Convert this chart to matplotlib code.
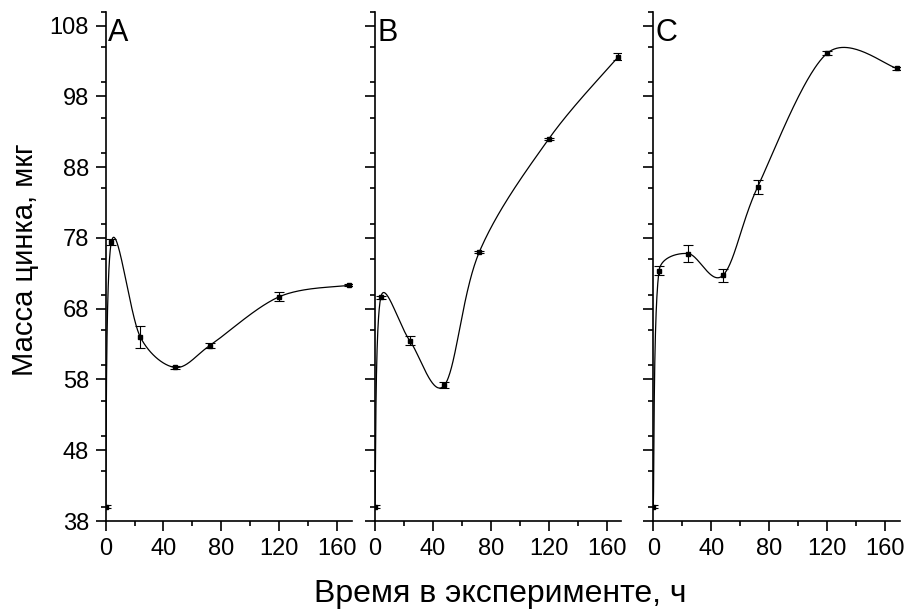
import numpy as np
import matplotlib
matplotlib.use("Agg")
import matplotlib.pyplot as plt
from matplotlib.ticker import MultipleLocator

plt.rcParams["font.family"] = ["Liberation Sans", "DejaVu Sans"]

# время отбора проб, ч
hours = [0, 4, 24, 48, 72, 120, 168]

# масса цинка, мкг, и погрешности для трёх серий
zn_a = [40.0, 77.4, 64.0, 59.7, 62.8, 69.7, 71.3]
err_a = [0.2, 0.4, 1.5, 0.2, 0.3, 0.6, 0.15]

zn_b = [40.0, 69.6, 63.5, 57.2, 76.0, 92.0, 103.6]
err_b = [0.2, 0.2, 0.6, 0.4, 0.1, 0.15, 0.5]

zn_c = [40.0, 73.4, 75.8, 72.7, 85.2, 104.1, 102.0]
err_c = [0.2, 0.6, 1.25, 0.9, 1.05, 0.3, 0.2]

panel_names = ["A", "B", "C"]


def bezier_curve(ax, x, y, n=60, limit=0.4):
    # гладкая линия через точки: кубические Безье в экранных координатах,
    # ручки по соседним точкам (Catmull-Rom), ограниченные длиной сегмента
    p = ax.transData.transform(np.column_stack([x, y]))
    k = len(p)
    tang = []
    for i in range(k):
        a = p[i - 1] if i > 0 else p[i]
        b = p[i + 1] if i + 1 < k else p[i]
        tang.append((b - a) / 6)

    def handle(v, seg_len):
        size = np.hypot(*v)
        cap = seg_len * limit
        return v if size <= cap else v * cap / size

    t = np.linspace(0, 1, n)[:, None]
    parts = []
    for i in range(k - 1):
        seg_len = np.hypot(*(p[i + 1] - p[i]))
        c1 = p[i] + handle(tang[i], seg_len)
        c2 = p[i + 1] - handle(tang[i + 1], seg_len)
        seg = ((1 - t) ** 3 * p[i] + 3 * (1 - t) ** 2 * t * c1
               + 3 * (1 - t) * t ** 2 * c2 + t ** 3 * p[i + 1])
        parts.append(seg if i == 0 else seg[1:])
    curve = ax.transData.inverted().transform(np.vstack(parts))
    return curve[:, 0], curve[:, 1]


fig = plt.figure(figsize=(9.09, 6.10), dpi=100)
left_pos = [0.1161, 0.4125, 0.7187]
series = [(zn_a, err_a), (zn_b, err_b), (zn_c, err_c)]

for i, (vals, errs) in enumerate(series):
    ax = fig.add_axes([left_pos[i], 0.1459, 0.2709, 0.8352])
    ax.set_xlim(0, 170)
    ax.set_ylim(38, 110)
    xs, ys = bezier_curve(ax, hours, vals)
    ax.plot(xs, ys, color="black", lw=0.9)
    ax.errorbar(hours, vals, yerr=errs, fmt="s", color="black", ms=3,
                ecolor="black", elinewidth=0.8, capsize=3.8, capthick=0.8)
    ax.xaxis.set_major_locator(MultipleLocator(40))
    ax.xaxis.set_minor_locator(MultipleLocator(20))
    ax.set_yticks(np.arange(38, 109, 10))
    ax.yaxis.set_minor_locator(MultipleLocator(5))
    ax.spines["top"].set_visible(False)
    ax.spines["right"].set_visible(False)
    for s in ("left", "bottom"):
        ax.spines[s].set_linewidth(1.2)
    ax.tick_params(which="major", direction="out", length=7, width=1.2,
                   labelsize=17, pad=5)
    ax.tick_params(which="minor", direction="out", length=3.5, width=1.2)
    if i > 0:
        ax.tick_params(axis="y", labelleft=False)
    ax.text(0.01, 0.943, panel_names[i], transform=ax.transAxes,
            fontsize=22, va="baseline", ha="left")

fig.text(0.027, 0.575, "Масса цинка, мкг", rotation=90, fontsize=21,
         ha="center", va="center")
fig.text(0.55, 0.027, "Время в эксперименте, ч", fontsize=23,
         ha="center", va="center")

fig.savefig("out.png", dpi=100)
